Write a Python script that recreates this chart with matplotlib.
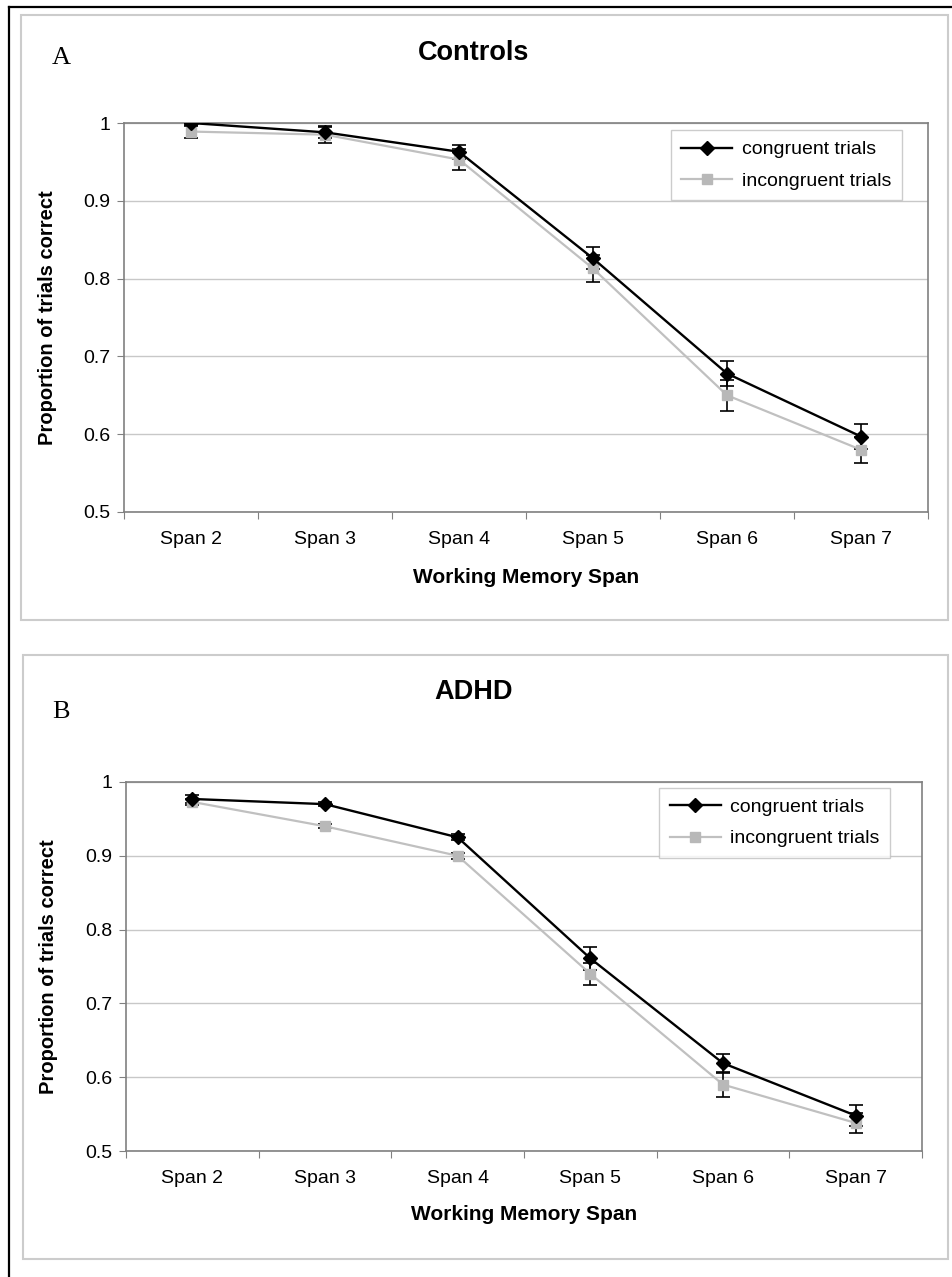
import numpy as np
import matplotlib
matplotlib.use("Agg")
import matplotlib.pyplot as plt
from matplotlib.patches import Rectangle
from matplotlib.lines import Line2D

plt.rcParams['font.family'] = ['Liberation Sans', 'DejaVu Sans']

spans = ["Span 2", "Span 3", "Span 4", "Span 5", "Span 6", "Span 7"]

# Controls
ctrl_cong = [1.000, 0.988, 0.963, 0.826, 0.678, 0.597]
ctrl_cong_err = [0.004, 0.007, 0.009, 0.014, 0.016, 0.016]
ctrl_incong = [0.989, 0.985, 0.953, 0.813, 0.650, 0.580]
ctrl_incong_err = [0.008, 0.011, 0.013, 0.017, 0.020, 0.017]

# ADHD
adhd_cong = [0.977, 0.970, 0.925, 0.761, 0.619, 0.548]
adhd_cong_err = [0.006, 0.003, 0.004, 0.016, 0.013, 0.014]
adhd_incong = [0.973, 0.940, 0.900, 0.740, 0.590, 0.538]
adhd_incong_err = [0.004, 0.003, 0.004, 0.015, 0.017, 0.013]

W, H = 952, 1277
fig = plt.figure(figsize=(W / 100, H / 100), dpi=100)


def fx(px):
    return px / W


def fy(py):
    return 1 - py / H


# outer frame
fig.add_artist(Line2D([fx(9), 1.0], [fy(7), fy(7)], color='black', lw=1.6))
fig.add_artist(Line2D([fx(9), fx(9)], [fy(7), 0.0], color='black', lw=1.6))

# panel boxes
for top, bot, left in [(15, 620, 21), (655, 1259, 23)]:
    fig.add_artist(Rectangle((fx(left), fy(bot)), fx(948 - left), fy(top) - fy(bot),
                             transform=fig.transFigure, fill=False,
                             edgecolor='#cccccc', lw=1.5))

x = np.arange(1, len(spans) + 1)


def panel(rect, cong, cerr, incong, ierr, title, letter, title_y, letter_y, leg_anchor, ylab_x, xlab_y):
    ax = fig.add_axes(rect)
    ax.errorbar(x, incong, yerr=ierr, fmt='none', ecolor='black', elinewidth=1.2,
                capsize=5, capthick=1.2, zorder=3)
    ax.errorbar(x, cong, yerr=cerr, fmt='none', ecolor='black', elinewidth=1.2,
                capsize=5, capthick=1.2, zorder=3)
    ax.plot(x, incong, color='#c0c0c0', lw=1.6, marker='s', markersize=7.5,
            markerfacecolor='#b8b8b8', markeredgecolor='#b8b8b8',
            label='incongruent trials', zorder=4)
    ax.plot(x, cong, color='black', lw=1.7, marker='D', markersize=7.5,
            label='congruent trials', zorder=5)
    ax.set_xlim(0.5, len(spans) + 0.5)
    ax.set_ylim(0.5, 1.0)
    ax.set_yticks([0.5, 0.6, 0.7, 0.8, 0.9, 1.0])
    ax.set_yticklabels(['0.5', '0.6', '0.7', '0.8', '0.9', '1'])
    ax.set_xticks(np.arange(0.5, len(spans) + 1, 1.0))
    ax.set_xticklabels([])
    ax.set_xticks(x, minor=True)
    ax.set_xticklabels(spans, minor=True)
    ax.tick_params(axis='x', which='minor', length=0, pad=14, labelsize=14)
    ax.tick_params(axis='x', which='major', length=5, color='#808080')
    ax.tick_params(axis='y', length=5, color='#808080', pad=5, labelsize=14)
    ax.yaxis.grid(True, color='#c8c8c8', lw=1)
    ax.set_axisbelow(True)
    for s in ax.spines.values():
        s.set_color('#808080')
        s.set_linewidth(1.2)
    ax.set_ylabel('Proportion of trials correct', fontsize=14.5, fontweight='bold')
    ax.yaxis.set_label_coords(ylab_x, 0.5)
    ax.set_xlabel('Working Memory Span', fontsize=15, fontweight='bold')
    ax.xaxis.set_label_coords(0.5, xlab_y)
    handles, labels = ax.get_legend_handles_labels()
    leg = ax.legend(handles[::-1], labels[::-1], loc='upper left', bbox_to_anchor=leg_anchor,
                    borderaxespad=0, fontsize=14, frameon=True, fancybox=False,
                    edgecolor='#c0c0c0', handlelength=2.6, labelspacing=0.7,
                    borderpad=0.55, handletextpad=0.5)
    leg.get_frame().set_linewidth(1.0)
    fig.text(fx(474), fy(title_y), title, ha='center', va='center', fontsize=19.5, fontweight='bold')
    fig.text(fx(52), fy(letter_y), letter, ha='left', va='center', fontsize=19,
             family=['Liberation Serif', 'DejaVu Serif'])
    return ax


panel([fx(124), fy(512), fx(928 - 124), fy(123) - fy(512)],
      ctrl_cong, ctrl_cong_err, ctrl_incong, ctrl_incong_err,
      'Controls', 'A', 53, 58, (0.680, 0.982), -0.083, -0.144)
panel([fx(126), fy(1151), fx(922 - 126), fy(782) - fy(1151)],
      adhd_cong, adhd_cong_err, adhd_incong, adhd_incong_err,
      'ADHD', 'B', 692, 712, (0.670, 0.984), -0.085, -0.146)

fig.savefig('out.png', dpi=100)
